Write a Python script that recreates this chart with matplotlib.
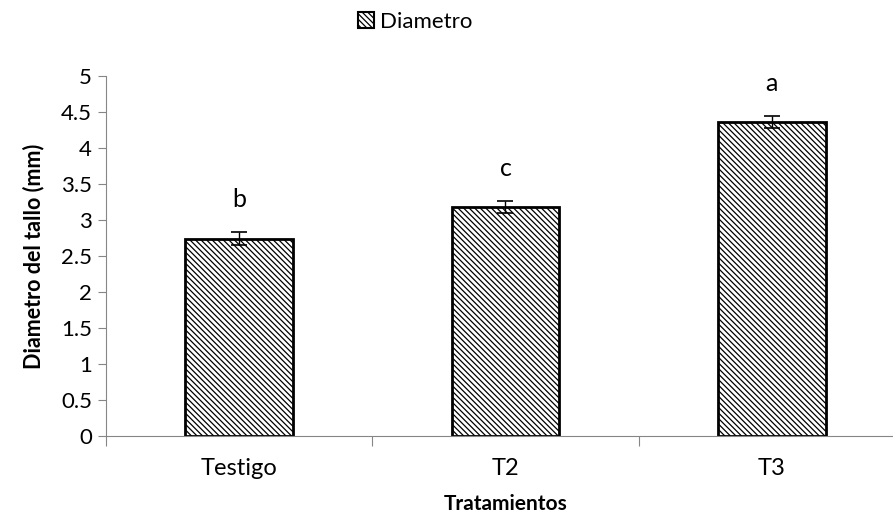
import matplotlib.pyplot as plt
import matplotlib.patches as mpatches
from matplotlib.ticker import FixedLocator, NullFormatter

#**** datos
tratamientos = ['Testigo', 'T2', 'T3']
diametro = [2.74, 3.18, 4.36]
error = [0.09, 0.08, 0.08]
letras = ['b', 'c', 'a']

plt.rcParams['font.family'] = ['Lato', 'DejaVu Sans']
plt.rcParams['hatch.linewidth'] = 0.9
gris = '#868686'

fig = plt.figure(figsize=(8.93, 5.22), dpi=100)
ax = fig.add_axes([106/893, 86/522, 799/893, 360/522])

x = range(len(tratamientos))
ax.bar(x, diametro, width=0.405, color='white', edgecolor='black',
       linewidth=2, hatch='\\\\\\\\\\\\', zorder=2)
ax.errorbar(x, diametro, yerr=error, fmt='none', ecolor='black',
            elinewidth=1, capsize=6, capthick=1.2, zorder=3)

#*** letras de significancia
for i, (v, e, l) in enumerate(zip(diametro, error, letras)):
    ax.annotate(l, (i, v + e), xytext=(0, 15), textcoords='offset points',
                ha='center', va='bottom', fontsize=18)

ax.set_xlim(-0.5, 2.5)
ax.set_ylim(0, 5)
ax.set_yticks([i * 0.5 for i in range(11)])
ax.set_yticklabels(['0', '0.5', '1', '1.5', '2', '2.5', '3', '3.5', '4', '4.5', '5'])

ax.xaxis.set_major_locator(FixedLocator([-0.5, 0.5, 1.5, 2.5]))
ax.xaxis.set_major_formatter(NullFormatter())
ax.xaxis.set_minor_locator(FixedLocator(list(x)))
ax.set_xticklabels(tratamientos, minor=True)
ax.tick_params(axis='x', which='minor', length=0, pad=16, labelsize=17)
ax.tick_params(axis='x', which='major', length=7, color=gris, direction='out')
ax.tick_params(axis='y', length=6, color=gris, direction='out', labelsize=16, pad=4)

for s in ['top', 'right']:
    ax.spines[s].set_visible(False)
for s in ['left', 'bottom']:
    ax.spines[s].set_color(gris)

ax.set_xlabel('Tratamientos', fontsize=15, fontweight='bold', labelpad=11)
ax.set_ylabel('Diametro del tallo (mm)', fontsize=15.5, fontweight='bold', labelpad=12)

#*** leyenda
parche = mpatches.Patch(facecolor='white', edgecolor='black', hatch='\\\\\\\\\\\\',
                        linewidth=1.5, label='Diametro')
fig.legend(handles=[parche], loc='center', bbox_to_anchor=(0.465, 0.958),
           frameon=False, fontsize=16, handlelength=0.7, handleheight=0.7,
           handletextpad=0.3)

fig.savefig('out.png', dpi=100)
